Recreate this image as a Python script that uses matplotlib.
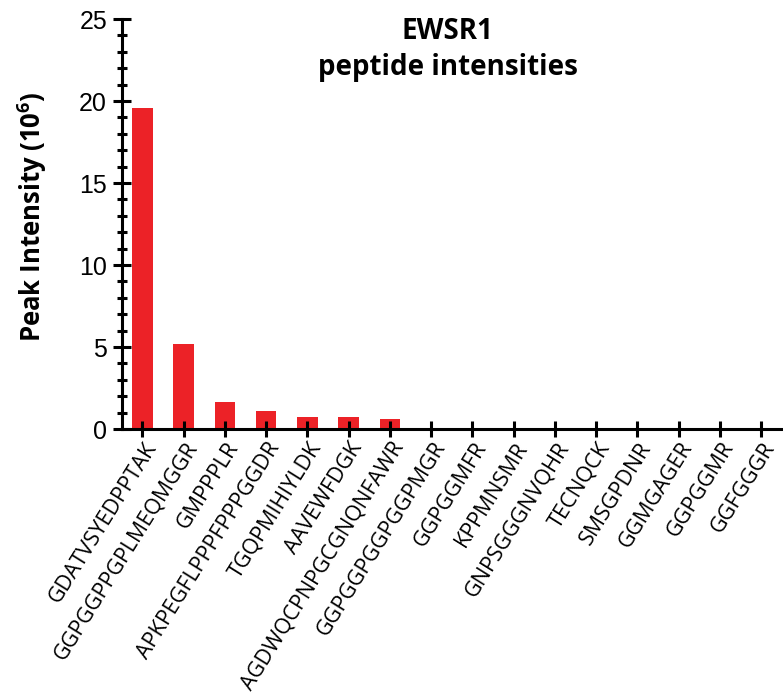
import numpy as np
import matplotlib
matplotlib.use("Agg")
import matplotlib.pyplot as plt
import matplotlib.transforms as mtransforms
from matplotlib.ticker import MultipleLocator

# EWSR1 peptides and their peak intensities (x 10^6)
peptides = [
    "GDATVSYEDPPTAK", "GGPGGPPGPLMEQMGGR", "GMPPPLR", "APKPEGFLPPPFPPPGGDR",
    "TGQPMIHIYLDK", "AAVEWFDGK", "AGDWQCPNPGCGNQNFAWR", "GGPGGPGGPGGPMGR",
    "GGPGGMFR", "KPPMNSMR", "GNPSGGGNVQHR", "TECNQCK", "SMSGPDNR",
    "GGMGAGER", "GGPGGMR", "GGFGGGR",
]
intensity = [19.6, 5.2, 1.65, 1.12, 0.75, 0.71, 0.63, 0, 0, 0, 0, 0, 0, 0, 0, 0]

label_font = "Open Sans"
plt.rcParams["mathtext.fontset"] = "custom"
plt.rcParams["mathtext.rm"] = "Open Sans:bold"

fig = plt.figure(figsize=(7.83, 6.97), dpi=100)
ax = fig.add_axes([0.1554, 0.3845, 0.843, 0.5882])

x = np.arange(len(peptides))
ax.bar(x, intensity, width=0.5, color="#EC2227", edgecolor="none")

ax.set_xlim(-0.5, len(peptides) - 0.5)
ax.set_ylim(0, 25)
ax.yaxis.set_major_locator(MultipleLocator(5))
ax.yaxis.set_minor_locator(MultipleLocator(1))

for side in ("top", "right"):
    ax.spines[side].set_visible(False)
for side in ("left", "bottom"):
    ax.spines[side].set_linewidth(2.2)

ax.tick_params(axis="y", which="major", direction="inout", length=13, width=2.2,
               labelsize=18, pad=4)
ax.tick_params(axis="y", which="minor", direction="inout", length=7, width=2.2)
ax.tick_params(axis="x", which="major", direction="inout", length=11.5, width=2.2, pad=5)

for lbl in ax.get_yticklabels():
    lbl.set_fontfamily("Liberation Sans")

ax.set_xticks(x)
ax.set_xticklabels(peptides, rotation=58, ha="right", va="center",
                   rotation_mode="anchor", fontsize=15.5, family=label_font)
# nudge the rotated labels slightly to the right of their ticks
shift = mtransforms.ScaledTranslation(7 / 72, 0, fig.dpi_scale_trans)
for lbl in ax.get_xticklabels():
    lbl.set_transform(lbl.get_transform() + shift)

ax.set_ylabel("Peak Intensity (10$^6$)", fontsize=18.5, fontweight="bold",
              family=label_font)
ax.yaxis.set_label_coords(-0.110, 0.518)

fig.text(0.572, 0.975, "EWSR1\npeptide intensities", ha="center", va="top",
         fontsize=20, fontweight="bold", family=label_font, linespacing=1.3)

fig.savefig("out.png", dpi=100)
